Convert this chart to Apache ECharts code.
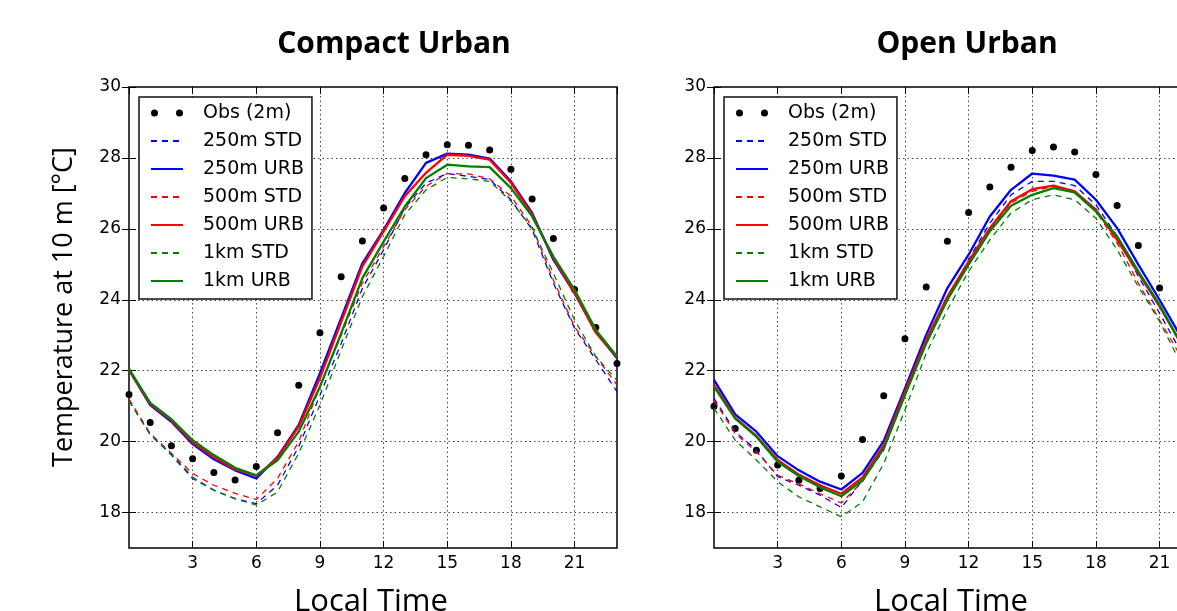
<!DOCTYPE html>
<html>
<head>
<meta charset="utf-8">
<title>Compact Urban / Open Urban</title>
<script src="https://cdn.jsdelivr.net/npm/echarts@6/dist/echarts.min.js"></script>
<style>
  html, body { margin: 0; padding: 0; background: #fff; }
  #chart { width: 1177px; height: 611px; }
</style>
</head>
<body>
<div id="chart"></div>
<script>
// hours of the day (x values)
const hours = [0, 1, 2, 3, 4, 5, 6, 7, 8, 9, 10, 11, 12, 13, 14, 15, 16, 17, 18, 19, 20, 21, 22, 23];
const yTicks = [18, 20, 22, 24, 26, 28, 30];

const seriesNames = ['Obs (2m)', '250m STD', '250m URB', '500m STD', '500m URB', '1km STD', '1km URB'];
const panelTitles = ['Compact Urban', 'Open Urban'];

// Compact Urban
const compactObs     = [21.33, 20.54, 19.88, 19.52, 19.13, 18.92, 19.30, 20.25, 21.59, 23.07, 24.65, 25.66, 26.59, 27.42, 28.09, 28.37, 28.36, 28.22, 27.68, 26.84, 25.73, 24.29, 23.22, 22.20];
const compact250Std  = [21.15, 20.20, 19.62, 18.96, 18.63, 18.39, 18.25, 18.77, 19.86, 21.31, 22.77, 24.32, 25.41, 26.59, 27.29, 27.56, 27.48, 27.39, 26.82, 25.98, 24.47, 23.20, 22.31, 21.41];
const compact250Urb  = [22.02, 21.03, 20.56, 19.93, 19.50, 19.19, 18.96, 19.57, 20.47, 21.93, 23.48, 25.03, 25.97, 27.01, 27.86, 28.12, 28.09, 27.98, 27.34, 26.45, 25.13, 24.19, 23.10, 22.35];
const compact500Std  = [21.20, 20.23, 19.67, 19.10, 18.77, 18.54, 18.37, 18.96, 20.00, 21.55, 23.00, 24.47, 25.50, 26.54, 27.20, 27.56, 27.55, 27.41, 26.92, 26.07, 24.56, 23.24, 22.40, 21.60];
const compact500Urb  = [22.02, 21.06, 20.60, 19.98, 19.56, 19.22, 19.03, 19.54, 20.42, 21.79, 23.38, 24.94, 25.93, 26.92, 27.58, 28.09, 28.06, 27.95, 27.30, 26.40, 25.18, 24.19, 23.08, 22.38];
const compact1kmStd  = [21.15, 20.20, 19.65, 19.00, 18.63, 18.39, 18.21, 18.58, 19.67, 21.03, 22.58, 24.09, 25.22, 26.40, 27.10, 27.45, 27.41, 27.34, 26.78, 26.02, 24.75, 23.43, 22.40, 21.73];
const compact1kmUrb  = [22.05, 21.09, 20.63, 20.04, 19.62, 19.26, 19.05, 19.47, 20.28, 21.55, 23.05, 24.61, 25.64, 26.63, 27.43, 27.81, 27.76, 27.74, 27.15, 26.35, 25.22, 24.28, 23.15, 22.40];

// Open Urban
const openObs     = [21.00, 20.37, 19.76, 19.34, 18.91, 18.68, 19.03, 20.06, 21.29, 22.90, 24.36, 25.65, 26.46, 27.18, 27.74, 28.21, 28.31, 28.17, 27.53, 26.66, 25.53, 24.33, 23.10, 22.30];
const open250Std  = [21.22, 20.28, 19.76, 19.01, 18.77, 18.49, 18.14, 18.91, 19.76, 21.36, 22.77, 24.00, 25.13, 26.16, 26.96, 27.34, 27.34, 27.22, 26.68, 25.79, 24.66, 23.62, 22.54, 21.60];
const open250Urb  = [21.74, 20.77, 20.28, 19.59, 19.19, 18.87, 18.65, 19.12, 20.02, 21.50, 23.01, 24.33, 25.27, 26.35, 27.10, 27.56, 27.50, 27.39, 26.82, 26.02, 24.99, 24.00, 22.96, 22.00];
const open500Std  = [21.17, 20.23, 19.71, 19.05, 18.81, 18.53, 18.27, 18.87, 19.86, 21.31, 22.77, 24.00, 25.03, 25.97, 26.73, 27.06, 27.20, 27.01, 26.49, 25.60, 24.47, 23.43, 22.40, 21.50];
const open500Urb  = [21.60, 20.68, 20.16, 19.48, 19.07, 18.77, 18.53, 18.99, 19.90, 21.41, 22.87, 24.09, 25.08, 26.02, 26.78, 27.12, 27.22, 27.06, 26.54, 25.69, 24.75, 23.81, 22.77, 21.80];
const open1kmStd  = [20.94, 20.04, 19.48, 18.87, 18.44, 18.16, 17.88, 18.30, 19.38, 20.89, 22.49, 23.72, 24.80, 25.69, 26.45, 26.82, 26.96, 26.82, 26.30, 25.41, 24.37, 23.39, 22.21, 21.30];
const open1kmUrb  = [21.55, 20.65, 20.14, 19.43, 19.03, 18.71, 18.46, 18.91, 19.81, 21.31, 22.77, 24.00, 24.99, 25.93, 26.65, 26.96, 27.15, 27.03, 26.49, 25.79, 24.80, 23.86, 22.77, 21.90];

window.addEventListener('load', function () {
  const chart = echarts.init(document.getElementById('chart'));

  const tickFont = { color: '#000', fontFamily: 'DejaVu Sans', fontSize: 17 };
  const dotted = { color: '#444', width: 1, type: [1.5, 3] };
  const tick = { show: true, inside: true, length: 7, lineStyle: { color: '#000', width: 1 } };
  const yTick = Object.assign({ customValues: yTicks }, tick);

  // style of each model line: color, width, dash
  const lineLook = [
    null,
    { color: '#0000ff', width: 1.3, type: [6, 5] },
    { color: '#0000ff', width: 2.3, type: 'solid' },
    { color: '#ff0000', width: 1.3, type: [6, 5] },
    { color: '#ff0000', width: 2.3, type: 'solid' },
    { color: '#008000', width: 1.3, type: [6, 5] },
    { color: '#008000', width: 2.3, type: 'solid' }
  ];

  const panels = [
    [compactObs, compact250Std, compact250Urb, compact500Std, compact500Urb, compact1kmStd, compact1kmUrb],
    [openObs, open250Std, open250Urb, open500Std, open500Urb, open1kmStd, open1kmUrb]
  ];
  const gridLeft = [129, 714];

  const grids = [], xAxes = [], yAxes = [], series = [], legends = [];

  panels.forEach(function (vals, p) {
    grids.push({
      left: gridLeft[p], top: 87, width: 488, height: 461,
      show: true, borderColor: '#000', borderWidth: 1.5, backgroundColor: 'transparent',
      containLabel: false, outerBoundsMode: 'none'
    });
    // bottom + top x axes
    xAxes.push({
      type: 'value', gridIndex: p, min: 0, max: 23, interval: 3,
      axisLine: { show: false }, axisTick: tick,
      axisLabel: Object.assign({ showMinLabel: false, showMaxLabel: false, margin: 7 }, tickFont),
      splitLine: { show: true, lineStyle: dotted }
    });
    xAxes.push({
      type: 'value', gridIndex: p, position: 'top', min: 0, max: 23, interval: 3,
      axisLine: { show: false }, axisTick: tick, axisLabel: { show: false }, splitLine: { show: false }
    });
    // left + right y axes
    yAxes.push({
      type: 'value', gridIndex: p, min: 17, max: 30, splitNumber: 6,
      axisLine: { show: false }, axisTick: yTick,
      axisLabel: Object.assign({ margin: 8, customValues: yTicks }, tickFont),
      splitLine: { show: true, lineStyle: dotted }
    });
    yAxes.push({
      type: 'value', gridIndex: p, position: 'right', min: 17, max: 30, splitNumber: 6,
      axisLine: { show: false }, axisTick: yTick, axisLabel: { show: false }, splitLine: { show: false }
    });

    vals.forEach(function (arr, k) {
      const data = hours.map((h, i) => [h, arr[i]]);
      if (k === 0) {
        series.push({
          type: 'scatter', name: seriesNames[k], xAxisIndex: p * 2, yAxisIndex: p * 2,
          symbol: 'circle', symbolSize: 7, itemStyle: { color: '#000', opacity: 1 }, data: data
        });
      } else {
        series.push({
          type: 'line', name: seriesNames[k], xAxisIndex: p * 2, yAxisIndex: p * 2,
          symbol: 'none', showSymbol: false, lineStyle: lineLook[k], itemStyle: { color: lineLook[k].color },
          data: data
        });
      }
    });

    legends.push({
      left: gridLeft[p] + 10, top: 97, orient: 'vertical', selectedMode: false,
      padding: [6, 8, 8, 11], itemWidth: 32, itemHeight: 7, itemGap: 8,
      borderColor: '#111', borderWidth: 1.5, backgroundColor: '#fff', borderRadius: 0,
      itemStyle: { opacity: 0 },
      textStyle: { fontFamily: 'DejaVu Sans', fontSize: 19, color: '#000', lineHeight: 20, padding: [0, 0, 0, 15] },
      data: seriesNames.map(function (n, k) {
        if (k === 0) {
          return {
            name: n,
            icon: 'path://M0,3.5a3.5,3.5 0 1,0 7,0a3.5,3.5 0 1,0 -7,0M25,3.5a3.5,3.5 0 1,0 7,0a3.5,3.5 0 1,0 -7,0',
            itemStyle: { opacity: 1, color: '#000' }
          };
        }
        return { name: n };
      })
    });
  });

  const txt = function (text, x, y, font, rot) {
    return {
      type: 'text', x: x, y: y, rotation: rot || 0,
      style: { text: text, font: font, fill: '#000', align: 'center', verticalAlign: 'middle', textAlign: 'center', textVerticalAlign: 'middle' }
    };
  };

  const option = {
    animation: false,
    grid: grids,
    xAxis: xAxes,
    yAxis: yAxes,
    legend: legends,
    series: series,
    graphic: [
      txt(panelTitles[0], 394, 44, 'bold 30px "Open Sans"'),
      txt(panelTitles[1], 967, 44, 'bold 30px "Open Sans"'),
      txt('Local Time', 371, 602, '31px "Open Sans"'),
      txt('Local Time', 951, 602, '31px "Open Sans"'),
      txt('Temperature at 10 m [°C]', 64, 307, '27px "Open Sans"', Math.PI / 2)
    ]
  };

  chart.setOption(option);
  window.addEventListener('resize', () => chart.resize());
});
</script>
</body>
</html>
